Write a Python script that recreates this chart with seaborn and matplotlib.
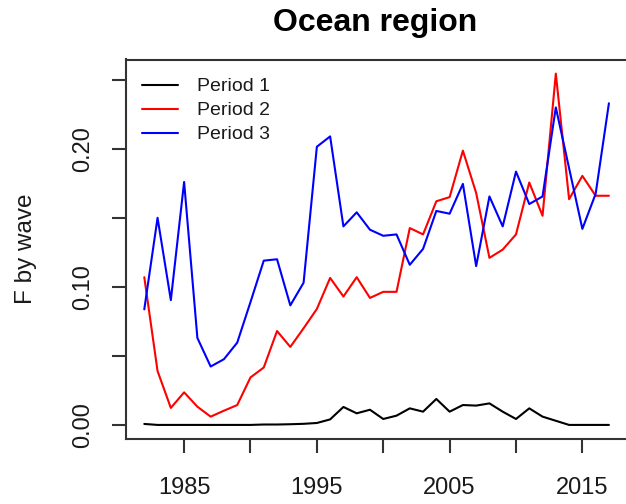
import numpy as np
import pandas as pd
import matplotlib
matplotlib.use("Agg")
import matplotlib.pyplot as plt
import seaborn as sns

years = list(range(1982, 2018))

# values
period1 = [0.0007, 0.0, 0.0, 0.0, 0.0, 0.0, 0.0, 0.0, 0.0, 0.0003, 0.0003, 0.0005, 0.0008, 0.0014,
           0.004, 0.013, 0.0084, 0.011, 0.0043, 0.0067, 0.012, 0.0096, 0.0188, 0.0096, 0.0144, 0.014,
           0.0156, 0.0096, 0.0043, 0.012, 0.006, 0.003, 0.0, 0.0, 0.0, 0.0]
period2 = [0.107, 0.039, 0.0123, 0.0236, 0.0132, 0.006, 0.0103, 0.0144, 0.0344, 0.0416, 0.068, 0.0565,
           0.070, 0.084, 0.1065, 0.093, 0.107, 0.092, 0.0964, 0.0964, 0.1426, 0.138, 0.162, 0.165,
           0.1987, 0.168, 0.121, 0.127, 0.138, 0.1756, 0.1515, 0.2545, 0.1635, 0.1804, 0.166, 0.166]
period3 = [0.0837, 0.150, 0.0904, 0.176, 0.063, 0.0423, 0.0476, 0.0596, 0.089, 0.119, 0.120, 0.0866,
           0.103, 0.2015, 0.209, 0.1438, 0.154, 0.1414, 0.137, 0.138, 0.116, 0.1275, 0.155, 0.153,
           0.1746, 0.115, 0.1655, 0.1438, 0.1835, 0.160, 0.1655, 0.230, 0.186, 0.142, 0.1674, 0.233]

labels = ["Period 1", "Period 2", "Period 3"]
colors = ["black", "#ff0000", "#0000ff"]

df = pd.DataFrame({
    "year": years * 3,
    "F": period1 + period2 + period3,
    "period": [labels[0]] * len(years) + [labels[1]] * len(years) + [labels[2]] * len(years),
})

sns.set_style("ticks")
plt.rcParams["font.family"] = ["Liberation Sans", "DejaVu Sans"]
txt = "#1a1a1a"

fig = plt.figure(figsize=(6.26, 5.04), dpi=100)
ax = fig.add_axes([125.7 / 626, 65 / 504, 501.8 / 626, 379.5 / 504])

sns.lineplot(data=df, x="year", y="F", hue="period", palette=colors, linewidth=1.5, ax=ax)

# R style 4% padding
ax.set_xlim(1980.6, 2018.4)
ax.set_ylim(-0.0102, 0.2647)

ax.set_xticks([1985, 1990, 1995, 2000, 2005, 2010, 2015])
ax.set_xticklabels(["1985", "", "1995", "", "2005", "", "2015"])
ax.set_yticks([0.0, 0.05, 0.10, 0.15, 0.20, 0.25])
ax.set_yticklabels(["0.00", "", "0.10", "", "0.20", ""], rotation=90, va="center")

for s in ax.spines.values():
    s.set_visible(True)
    s.set_color("#333333")
    s.set_linewidth(1.5)

ax.tick_params(axis="both", length=10, width=1.5, color="#333333", labelsize=17, labelcolor=txt)
ax.tick_params(axis="x", pad=17)
ax.tick_params(axis="y", pad=13)

ax.set_xlabel("")
ax.set_ylabel("F by wave", fontsize=17.5, color=txt)
ax.yaxis.set_label_coords(-(125.7 - 37) / 501.8, 0.5)

fig.text(375 / 626, 1 - 23 / 504, "Ocean region", ha="center", va="center",
         fontsize=23, fontweight="bold", color="black")

leg = ax.legend(loc="upper left", bbox_to_anchor=(0.0325, 0.952), frameon=False, fontsize=14,
                handlelength=1.85, handletextpad=1.0, labelspacing=0.33, borderaxespad=0, borderpad=0)
for t in leg.get_texts():
    t.set_color(txt)

fig.savefig("out.png", dpi=100)
